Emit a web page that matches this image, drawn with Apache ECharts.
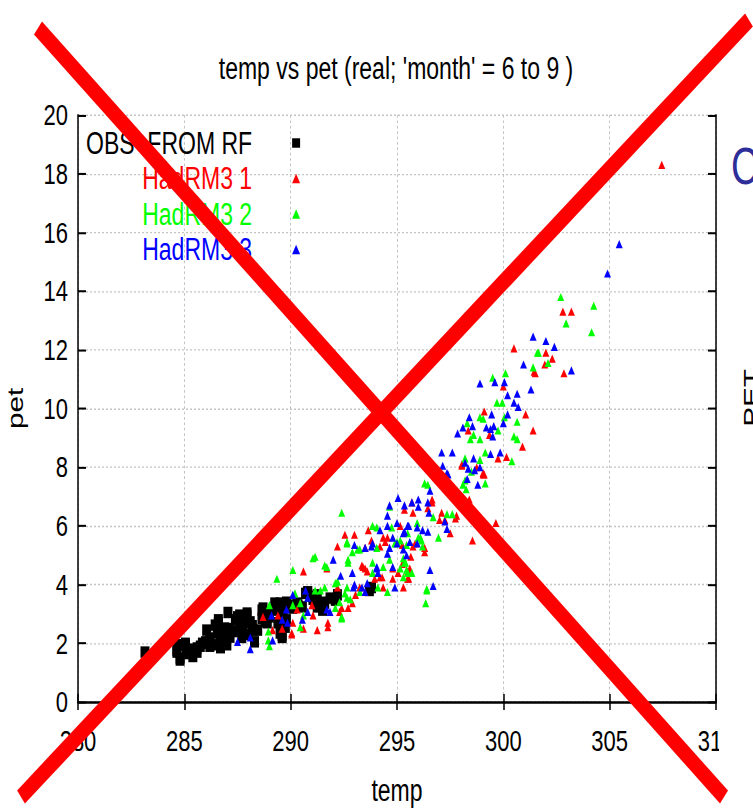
<!DOCTYPE html>
<html><head><meta charset="utf-8">
<script src="https://cdn.jsdelivr.net/npm/echarts@6/dist/echarts.min.js"></script>
<style>
html,body{margin:0;padding:0;background:#fff;overflow:hidden;width:753px;height:809px}
#wrap{width:753px;height:809px;overflow:hidden;position:relative;background:#fff}
#c{width:753px;height:600px;transform:scaleY(1.348333);transform-origin:0 0}
</style></head><body><div id="wrap"><div id="c"></div></div>
<script>
// ---- data ----
const titleText = "temp vs pet (real; 'month' = 6 to 9 )";
const xName = 'temp';
const yName = 'pet';
const xMin = 280, xMax = 310, xStep = 5;
const yMin = 0, yMax = 20, yStep = 2;
const seriesNames = ['OBS  FROM RF', 'HadRM3 1', 'HadRM3 2', 'HadRM3 3'];

const obs = [
[283.15,1.70],[284.65,1.70],[284.8,1.5],[284.7,1.95],[285.05,2.0],[285.1,1.65],[285.35,1.8],[285.6,1.7],[285.75,1.9],[286.0,2.05],
[286.05,2.45],[286.2,1.9],[286.45,1.95],[286.55,2.35],[286.6,2.7],[286.7,1.85],[286.9,2.2],[287.0,1.95],[287.05,3.05],[287.15,2.5],
[287.3,2.4],[287.5,2.9],[287.6,2.5],[287.7,2.2],[287.85,2.7],[287.95,2.95],[288.0,2.3],[288.2,2.6],[288.3,2.05],[288.45,2.45],
[288.65,2.85],[288.7,3.2],[288.9,2.7],[289.0,3.05],[289.35,3.2],[289.4,2.7],[289.6,2.2],[289.75,2.55],[289.8,3.4],[290.1,3.3],
[289.5,3.37],[289.65,3.07],[289.8,2.8],[289.5,2.35],[290.35,3.3],[290.7,3.7],[290.8,3.75],[291.0,3.6],[291.05,3.5],[291.25,3.65],
[291.3,3.37],[291.45,3.4],[291.6,3.37],[292.1,3.5],[292.2,3.65],[293.7,3.8],[293.8,3.9],
[284.65,1.77],[285.05,1.94],[285.25,1.67],[285.6,1.84],[285.85,2.0],[286.2,2.18],[286.45,2.62],[286.6,2.8],[286.7,2.04],[286.9,2.52],
[287.15,2.21],[287.4,2.8],[287.6,2.96],[287.75,2.56],[287.95,3.03],[288.1,2.73],[288.25,2.45],[288.65,3.13],[288.8,2.73],[289.0,2.9],
[289.25,3.37],[289.4,3.13],[289.6,2.28],[289.8,3.37],[290.1,3.2],[290.3,3.37],[290.55,3.24],[290.8,3.75],[291.05,3.58],[291.25,3.24],
[291.5,3.13],[291.85,3.54],[292.1,3.47],[284.8,1.43],[285.4,1.55]
];

const had1 = [
[288.7,2.9],[289.4,2.95],[289.6,2.5],[290.1,2.7],[289.15,2.45],[290.05,2.35],
[292.2,5.3],[293.5,5.25],[294.2,5.3],[290.6,4.45],[291.7,4.55],[293.35,4.65],[293.5,4.55],[293.6,4.45],[294.2,4.25],[292.2,3.9],
[293.25,3.9],[293.05,3.65],[292.7,3.2],[292.4,3.2],[294.35,3.9],[295.3,3.9],[295.05,4.4],[295.5,4.45],[295.25,5.35],[290.3,3.15],
[291.0,3.3],[291.05,2.95],[290.6,2.5],[291.25,2.45],[290.05,2.3],[291.75,2.7],[291.75,2.55],[292.3,3.07],[292.9,3.37],
[292.55,5.7],[293.0,5.7],[293.65,5.85],[294.35,5.6],[294.55,5.6],[293.8,5.5],[295.35,6.55],[295.75,6.45],[295.85,5.4],[296.3,5.25],
[294.8,4.55],[296.65,6.9],[298.05,8.05],[299.05,7.75],[298.4,6.9],[297.1,6.45],[297.25,6.2],[297.5,5.75],[297.8,6.35],[299.65,6.1],
[298.55,5.5],[294.45,5.45],[293.4,4.6],[293.95,4.2],[294.3,4.25],[294.8,4.2],[295.5,4.2],
[299.1,7.75],[297.75,7.2],[295.7,6.8],[296.45,6.6],[296.65,6.8],[297.0,6.2],[297.75,6.25],[295.15,6.0],[295.75,5.3],[296.3,5.1],
[295.65,4.95],[295.25,4.7],[295.6,4.55],[295.55,4.2],
[300.0,10.75],[301.5,11.2],[301.95,11.5],[302.3,11.7],[302.0,11.9],[302.85,11.2],[301.05,9.8],[301.4,9.25],[300.9,8.7],[299.1,9.9],
[298.35,9.25],[299.35,9.1],[299.75,8.3],[300.15,8.35],[298.05,8.1],[298.75,8.0],[299.05,7.8],
[307.45,18.3],[302.8,13.3],[303.2,13.3],[300.5,12.05],[301.45,11.25]
];

const had2 = [
[289.35,4.2],[290.1,4.5],[289.0,3.3],[288.95,2.4],[288.95,2.1],[289.0,1.9],
[292.65,5.4],[292.9,5.1],[293.15,5.2],[294.05,5.25],[294.9,5.4],[291.15,4.95],[291.6,4.65],[292.7,4.75],[293.85,4.75],[293.85,4.4],
[292.65,3.9],[292.2,4.1],[292.65,3.55],[292.3,3.4],[292.8,3.5],[292.4,2.85],[294.1,3.9],[294.55,3.75],[295.3,4.25],[295.7,4.4],
[295.15,4.55],[295.35,4.75],[291.15,3.8],[291.4,3.8],[291.6,3.9],[290.2,3.7],[290.1,3.3],[290.45,3.37],[290.6,2.95],[290.45,2.55],
[292.1,3.2],[292.1,4.05],[293.25,3.75],[292.55,3.7],
[292.4,6.45],[292.65,5.45],[293.85,6.0],[295.95,6.1],[296.1,5.6],[296.15,5.5],[295.0,5.45],[295.15,5.5],[295.45,5.35],[293.25,5.2],
[296.4,3.8],[296.35,3.37],[292.4,2.9],[296.3,7.45],[296.45,7.4],[297.35,7.6],[298.2,7.55],[298.1,7.4],[298.5,7.85],[299.15,7.45],
[297.6,6.4],[296.95,5.6],[294.05,5.95],[294.65,6.65],[294.75,5.95],[294.65,4.85],[294.35,4.6],[295.45,4.5],[291.05,4.9],[291.7,4.6],
[292.7,4.85],
[298.25,7.25],[296.7,6.3],[297.35,6.4],[295.5,5.75],[296.0,5.6],[296.2,5.3],[295.3,4.9],[295.4,4.75],[295.5,4.4],[296.4,3.85],
[299.5,11.05],[300.1,11.2],[299.7,10.2],[299.95,10.2],[301.4,11.4],[302.1,11.55],[301.6,11.9],[300.65,9.55],[300.5,9.05],[300.65,8.95],
[300.05,9.7],[298.9,9.7],[299.05,9.65],[298.3,9.5],[298.6,9.1],[298.45,8.95],[299.75,9.25],[298.9,8.95],[300.4,8.2],[299.15,8.5],
[298.9,8.25],[298.2,8.3],
[302.7,13.8],[304.25,13.5],[302.95,12.9],[304.15,12.6],[301.65,11.9]
];

const had3 = [
[290.1,3.65],[289.8,3.15],[289.1,2.95],[289.6,2.8],[289.85,2.7],[288.1,2.2],[287.5,2.05],[289.15,2.1],[288.1,1.8],
[293.0,5.35],[293.85,5.4],[294.55,5.05],[292.0,4.85],[292.35,4.3],[294.05,4.55],[294.1,4.4],[292.9,4.4],[293.0,4.0],[293.35,3.9],
[293.5,3.75],[293.6,4.05],[294.9,3.9],[295.45,5.0],[294.65,5.25],[290.7,3.8],[290.8,3.55],[290.8,3.07],[290.55,2.8],[291.7,3.15],
[291.85,3.07],[292.95,3.9],
[294.2,5.85],[294.55,6.0],[294.55,6.35],[294.65,6.7],[295.05,6.95],[295.35,6.7],[295.7,6.8],[296.0,6.9],[295.95,5.95],[295.5,6.0],
[295.0,6.1],[295.35,5.8],[296.2,5.85],[296.45,5.8],[295.0,5.4],[295.95,5.4],[293.5,5.25],[294.05,4.6],[296.55,4.5],[296.7,3.95],
[297.15,8.05],[297.1,7.75],[297.35,7.8],[296.55,7.2],[296.45,6.8],[297.6,7.2],[297.65,7.1],[298.2,8.15],[298.65,7.9],[298.9,8.0],
[298.8,7.4],[297.25,6.15],[297.35,5.9],[293.8,5.3],[294.8,5.6],[295.3,5.2],[294.8,4.6],
[297.4,7.75],[298.3,7.6],[296.0,6.65],[296.5,6.45],[295.55,6.0],[295.3,5.75],[295.6,5.45],
[298.9,10.85],[299.6,10.9],[300.05,10.9],[300.2,10.45],[300.65,10.5],[300.5,10.2],[300.7,10.05],[301.3,10.65],[300.95,11.5],[303.2,11.3],
[300.2,9.8],[300.0,9.5],[299.45,9.8],[298.4,9.7],[298.55,9.4],[298.1,9.35],[297.85,9.15],[299.2,9.35],[299.4,9.3],[299.55,9.4],
[299.5,9.05],[299.4,8.45],[299.85,8.5],[298.6,8.3],[297.6,8.5],[297.1,8.5],[298.35,7.95],
[305.45,15.6],[304.9,14.6],[301.4,12.45],[302.0,12.3],[302.4,12.1]
];

const seriesColors = ['#000000', '#ff0000', '#00ff00', '#0000ff'];

// ---- layout (screen px, the chart layer is stretched vertically by S) ----
const S = 809 / 600;
const sy = v => v / S;
const F = '"Liberation Sans", Arial, sans-serif';

const chart = echarts.init(document.getElementById('c'), null, {renderer: 'svg'});

const gridLine = {show: true, lineStyle: {color: '#c4c4c4', width: 1, type: [2, 2]}};
const axisLine = {show: true, lineStyle: {color: '#000', width: 1.5}};

function mkSeries(name, data, color, symbol, size) {
  return {
    name, type: 'scatter', data, symbol, symbolSize: size,
    itemStyle: {color, opacity: 1}, emphasis: {disabled: true}, large: false
  };
}

const option = {
  animation: false,
  backgroundColor: '#fff',
  title: {
    text: titleText, left: 396, top: sy(68) - 11.5, textAlign: 'center', padding: 0,
    textStyle: {fontFamily: F, fontSize: 23, fontWeight: 'normal', color: '#000'}
  },
  legend: {
    orient: 'vertical', left: 86, top: sy(143) - 11.5, padding: 0,
    align: 'right', itemWidth: 8, itemHeight: 7, itemGap: sy(35.5) - 23,
    selectedMode: false,
    formatter: n => '{a|' + n + '}{b| }',
    textStyle: {fontFamily: F, fontSize: 23, rich: {a: {width: 170, align: 'right', fontFamily: F, fontSize: 23}, b: {width: 35, fontSize: 23}}},
    data: seriesNames.map((n, i) => ({name: n, icon: i === 0 ? 'rect' : 'triangle', itemStyle: {color: seriesColors[i]}, textStyle: {color: seriesColors[i]}}))
  },
  grid: {left: 78, right: 37, top: sy(115), bottom: 600 - sy(702), containLabel: false, outerBoundsMode: 'none'},
  xAxis: [{
    type: 'value', min: xMin, max: xMax, interval: xStep,
    name: xName, nameLocation: 'middle', nameGap: sy(790) - 11.5 - sy(702),
    nameTextStyle: {fontFamily: F, fontSize: 23, color: '#000'},
    axisLine, axisTick: {show: true, inside: true, length: 6, lineStyle: {color: '#000', width: 1.5}},
    axisLabel: {fontFamily: F, fontSize: 22, color: '#000', margin: sy(741) - 11 - sy(702)},
    splitLine: gridLine
  }, {
    type: 'value', position: 'top', min: xMin, max: xMax, interval: xStep,
    axisLine, axisTick: {show: true, inside: true, length: 6, lineStyle: {color: '#000', width: 1.5}},
    axisLabel: {show: false}, splitLine: {show: false}
  }],
  yAxis: [{
    type: 'value', min: yMin, max: yMax, interval: yStep,
    name: yName, nameLocation: 'middle', nameGap: 52,
    nameTextStyle: {fontFamily: F, fontSize: 22, color: '#000'},
    axisLine, axisTick: {show: true, inside: true, length: 8, lineStyle: {color: '#000', width: 1.5}},
    axisLabel: {fontFamily: F, fontSize: 22, color: '#000', margin: 10},
    splitLine: gridLine
  }, {
    type: 'value', position: 'right', min: yMin, max: yMax, interval: yStep,
    axisLine, axisTick: {show: true, inside: true, length: 8, lineStyle: {color: '#000', width: 1.5}},
    axisLabel: {show: false}, splitLine: {show: false}
  }],
  series: [
    mkSeries(seriesNames[0], obs, seriesColors[0], 'rect', [9, 8.5]),
    mkSeries(seriesNames[1], had1, seriesColors[1], 'triangle', [7, 6]),
    mkSeries(seriesNames[2], had2, seriesColors[2], 'triangle', [7, 6]),
    mkSeries(seriesNames[3], had3, seriesColors[3], 'triangle', [7, 6])
  ],
  graphic: [
    {type: 'rect', z: 90, shape: {x: 719, y: 0, width: 40, height: 600}, style: {fill: '#fff'}},
    {type: 'text', z: 91, x: 731, y: sy(166), style: {text: 'C', fontFamily: F, fontSize: 38, fill: '#2e2e9a', verticalAlign: 'middle'}},
    {type: 'text', z: 91, x: 740, y: sy(398), rotation: Math.PI / 2, style: {text: 'PET', fontFamily: F, fontSize: 22, fill: '#000', align: 'center', verticalAlign: 'top'}},
    {type: 'line', z: 100, shape: {x1: 38, y1: sy(28), x2: 724, y2: sy(797)}, style: {stroke: '#ff0000', lineWidth: 12.5, lineCap: 'butt'}},
    {type: 'line', z: 100, shape: {x1: 749, y1: sy(20), x2: 21, y2: sy(797)}, style: {stroke: '#ff0000', lineWidth: 12.5, lineCap: 'butt'}}
  ]
};
chart.setOption(option);
</script>
</body></html>
